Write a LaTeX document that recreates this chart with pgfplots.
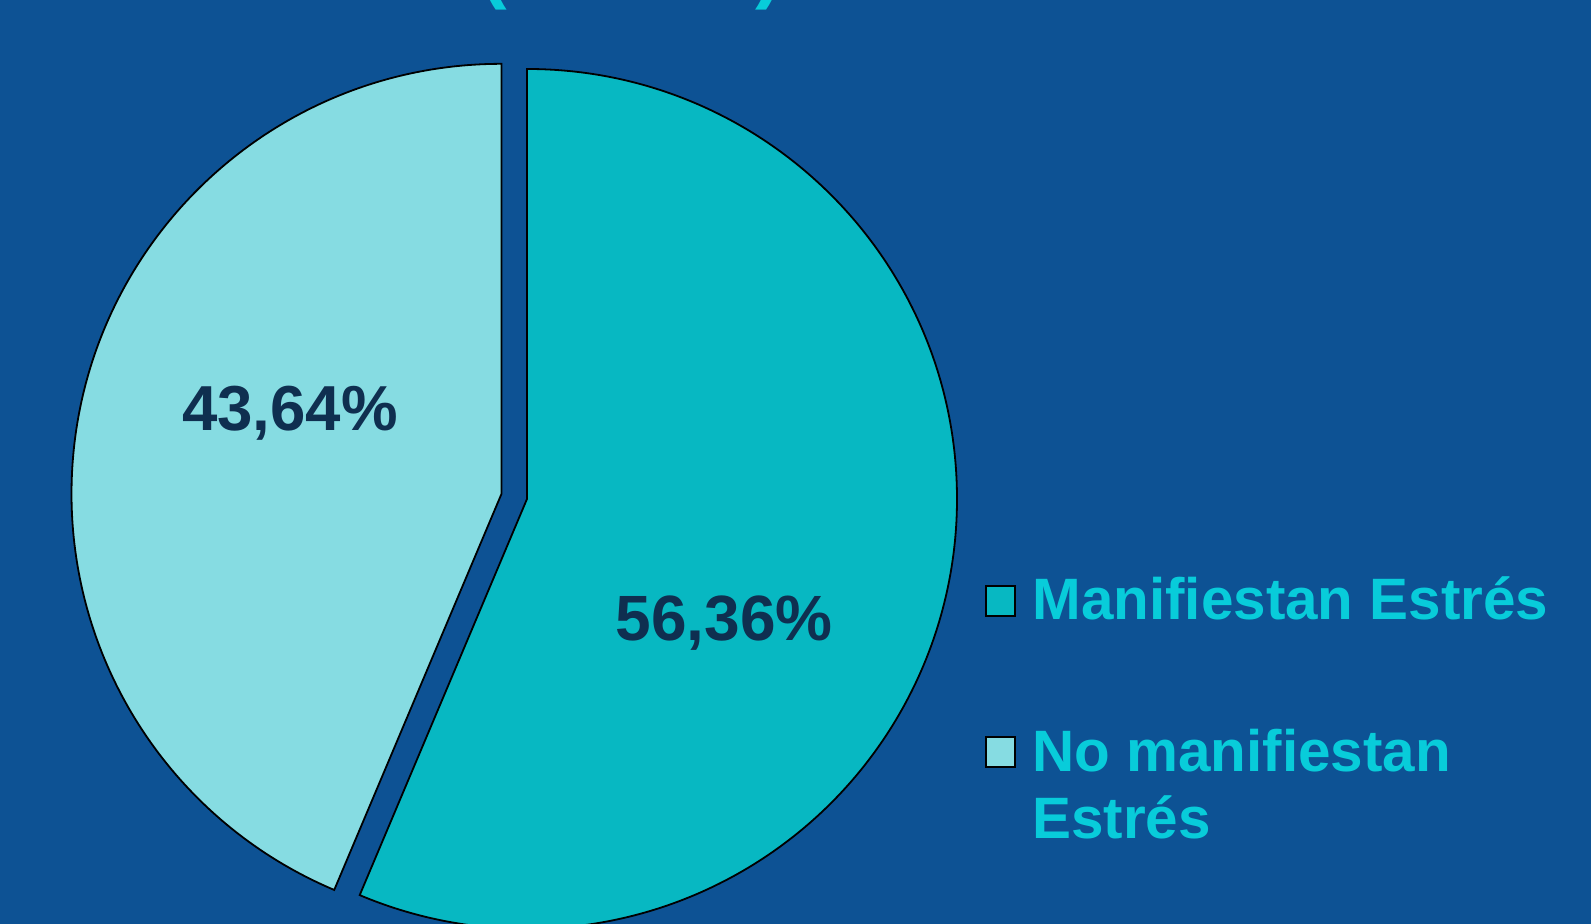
\documentclass[border=0pt]{standalone}
\usepackage{pgfplots}
\usepackage{pgfplotstable}
\usepackage{fontspec}
\setmainfont{Liberation Sans}
\pgfplotsset{compat=1.18}
\definecolor{bgblue}{HTML}{0D5294}
\definecolor{slicemain}{HTML}{07B8C2}
\definecolor{slicelight}{HTML}{86DCE2}
\definecolor{labelnavy}{HTML}{0F2F50}
\definecolor{legcyan}{HTML}{08CCDA}

% pie values (percent)
\pgfplotstableread{
label value
Manifiestan 56.36
NoManifiestan 43.64
}\piedata

\begin{document}
\begin{tikzpicture}
  \pgfplotstablegetelem{0}{value}\of\piedata \let\va\pgfplotsretval
  \pgfplotstablegetelem{1}{value}\of\piedata \let\vb\pgfplotsretval
  % angles: first slice clockwise from top
  \pgfmathsetmacro\endA{90-3.6*\va}
  \pgfmathsetmacro\endB{\endA+360}
  \pgfmathsetmacro\midB{(90+\endB)/2}
  \pgfmathsetmacro\bx{527+26*cos(\midB)}
  \pgfmathsetmacro\by{425+26*sin(\midB)}
  \def\rad{215pt}
  \useasboundingbox (0,0) rectangle (795.5pt,462pt);
  \fill[bgblue] (0,0) rectangle (795.5pt,462pt);
  \begin{axis}[
    at={(0,0)}, anchor=origin,
    scale only axis,
    width=795.5pt, height=462pt,
    xmin=0, xmax=1591, ymin=0, ymax=924,
    hide axis, clip=false,
  ]
    % title, cut off by the top edge (as in the source)
    \node[anchor=south, inner sep=0pt, font=\bfseries\fontsize{40}{44}\selectfont, text=legcyan]
      at (axis cs:494,913) {(};
    \node[anchor=south, inner sep=0pt, font=\bfseries\fontsize{40}{44}\selectfont, text=legcyan]
      at (axis cs:769,913) {)};
    % main slice
    \filldraw[fill=slicemain, draw=black, line width=0.9pt]
      (axis cs:527,425) -- ++(90:\rad) arc[start angle=90, end angle=\endA, radius=\rad] -- cycle;
    % exploded slice
    \filldraw[fill=slicelight, draw=black, line width=0.9pt]
      (axis cs:\bx,\by) -- ++(90:\rad) arc[start angle=90, end angle=\endB, radius=\rad] -- cycle;
    % slice labels
    \node[font=\bfseries\fontsize{31.8}{36}\selectfont, text=labelnavy]
      at (axis cs:290,511) {43,64\%};
    \node[font=\bfseries\fontsize{32}{36}\selectfont, text=labelnavy]
      at (axis cs:724,301) {56,36\%};
    % legend
    \filldraw[fill=slicemain, draw=black, line width=1pt]
      (axis cs:986,308) rectangle (axis cs:1015,338);
    \node[anchor=base west, font=\bfseries\fontsize{29.2}{33}\selectfont, text=legcyan, inner sep=0pt]
      at (axis cs:1032,304) {Manifiestan Estrés};
    \filldraw[fill=slicelight, draw=black, line width=1pt]
      (axis cs:986,157) rectangle (axis cs:1015,187);
    \node[anchor=base west, font=\bfseries\fontsize{29.2}{33}\selectfont, text=legcyan, inner sep=0pt]
      at (axis cs:1032,152) {No manifiestan};
    \node[anchor=base west, font=\bfseries\fontsize{29.2}{33}\selectfont, text=legcyan, inner sep=0pt]
      at (axis cs:1032,85) {Estrés};
  \end{axis}
\end{tikzpicture}
\end{document}
